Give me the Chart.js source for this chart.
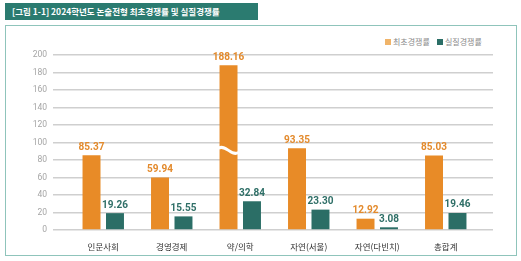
<!DOCTYPE html>
<html>

<head>
  <meta charset="UTF-8" />
  <title>2024학년도 논술전형 경쟁률</title>
  <script src="https://cdn.jsdelivr.net/npm/chart.js@4.4.1/dist/chart.umd.min.js"></script>
  <style>
    body { margin: 0; background: #fff; font-family: 'Noto Sans CJK KR', sans-serif; }
    #title {
      position: absolute; left: 5px; top: 3px; width: 253px; height: 17px;
      background: #2b7b70; color: #fff; font-size: 8.5px; font-weight: bold;
      line-height: 17px; padding-left: 7px; box-sizing: border-box; white-space: nowrap;
    }
    #box {
      position: absolute; left: 5px; top: 25px; width: 512px; height: 231px;
      border: 1.5px solid #8fc4bb; box-sizing: border-box;
    }
    #legend {
      position: absolute; left: 385px; top: 36px; font-size: 8px; color: #8a8a8a;
      white-space: nowrap;
    }
    #legend span.sq { display: inline-block; width: 6px; height: 6px; margin-right: 2px; }
    #chart { position: absolute; left: 0; top: 0; }
  </style>
</head>

<body>
  <div id="title">[그림 1-1] 2024학년도 논술전형 최초경쟁률 및 실질경쟁률</div>
  <div id="box"></div>
  <div id="legend"><span class="sq" style="background:#f0b469"></span>최초경쟁률&nbsp;&nbsp;&nbsp;&nbsp;<span class="sq" style="background:#2b6e66"></span>실질경쟁률</div>
  <canvas id="chart" width="521" height="261"></canvas>
  <script>
    const categories = ['인문사회', '경영경제', '약/의학', '자연(서울)', '자연(다빈치)', '총합계'];
    const initialRates = [85.37, 59.94, 188.16, 93.35, 12.92, 85.03];
    const actualRates = [19.26, 15.55, 32.84, 23.30, 3.08, 19.46];
    const yTicks = [0, 20, 40, 60, 80, 100, 120, 140, 160, 180, 200];

    const orange = '#e88b27';
    const teal = '#2b6e66';

    // value labels above each bar
    const valueLabels = {
      id: 'valueLabels',
      afterDatasetsDraw(chart) {
        const ctx = chart.ctx;
        ctx.save();
        ctx.font = 'bold 10px Roboto';
        ctx.textAlign = 'center';
        ctx.textBaseline = 'bottom';
        chart.data.datasets.forEach((ds, i) => {
          const meta = chart.getDatasetMeta(i);
          ctx.fillStyle = ds.labelColor;
          meta.data.forEach((bar, j) => {
            ctx.fillText(ds.data[j].toFixed(2), bar.x, bar.y - 3);
          });
        });
        ctx.restore();
      }
    };

    // wavy break on the tall bar
    const barBreak = {
      id: 'barBreak',
      afterDatasetsDraw(chart) {
        const bar = chart.getDatasetMeta(0).data[2];
        const y = chart.scales.y.getPixelForValue(91);
        const half = bar.width / 2 + 1;
        const ctx = chart.ctx;
        ctx.save();
        ctx.strokeStyle = '#fff';
        ctx.lineWidth = 3;
        ctx.beginPath();
        ctx.moveTo(bar.x - half, y - 2);
        ctx.bezierCurveTo(bar.x - 3, y - 7, bar.x + 3, y + 7, bar.x + half, y + 2);
        ctx.stroke();
        ctx.restore();
      }
    };

    const gridColor = '#cfcfcf';

    new Chart(document.getElementById('chart'), {
      type: 'bar',
      data: {
        labels: categories,
        datasets: [
          { label: '최초경쟁률', data: initialRates, backgroundColor: orange, labelColor: '#e38a2c' },
          { label: '실질경쟁률', data: actualRates, backgroundColor: teal, labelColor: '#2f6f67' }
        ]
      },
      options: {
        responsive: false,
        animation: false,
        categoryPercentage: 0.685,
        barPercentage: 0.766,
        layout: { padding: { left: 5, right: 28, top: 55, bottom: 5 } },
        plugins: { legend: { display: false }, tooltip: { enabled: false } },
        scales: {
          x: {
            grid: { display: false },
            border: { display: false },
            ticks: { color: '#333', font: { family: 'Noto Sans CJK KR', size: 8.5 }, padding: 4 },
            afterFit: s => { s.height = 26; }
          },
          y: {
            min: 0, max: 200,
            afterBuildTicks: s => { s.ticks = yTicks.map(v => ({ value: v })); },
            grid: { color: gridColor, lineWidth: 1.5, tickLength: 16 },
            border: { display: false },
            ticks: { color: '#a5a5a5', font: { family: 'Roboto', size: 8.5 }, padding: 6 },
            afterFit: s => { s.width = 64; }
          },
          y2: {
            position: 'right',
            min: 0, max: 200,
            afterBuildTicks: s => { s.ticks = yTicks.map(v => ({ value: v })); },
            grid: { color: gridColor, lineWidth: 1.5, tickLength: 13, drawOnChartArea: false },
            border: { display: false },
            ticks: { display: false },
            afterFit: s => { s.width = 13; }
          }
        }
      },
      plugins: [valueLabels, barBreak]
    });
  </script>
</body>

</html>
